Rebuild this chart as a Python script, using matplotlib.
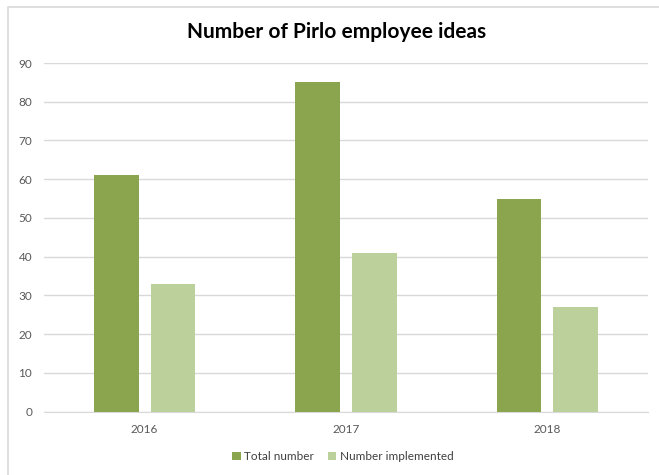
import matplotlib.pyplot as plt
import numpy as np
from matplotlib.patches import Rectangle

years = ['2016', '2017', '2018']
total_number = [61, 85, 55]
number_implemented = [33, 41, 27]

plt.rcParams['font.family'] = ['Lato', 'DejaVu Sans']

fig = plt.figure(figsize=(6.59, 4.75), dpi=100)
ax = fig.add_axes([44 / 659, 1 - 411.5 / 475, 604 / 659, 348.5 / 475])

x = np.arange(len(years))
w = 0.222
off = 0.141
ax.bar(x - off, total_number, w, color='#8AA54E', label='Total number', zorder=3)
ax.bar(x + off, number_implemented, w, color='#BBD09A', label='Number implemented', zorder=3)

ax.set_xlim(-0.5, 2.5)
ax.set_ylim(0, 90)
ax.set_yticks(range(0, 91, 10))
ax.set_xticks(x)
ax.set_xticklabels(years)
ax.yaxis.grid(True, color='#D9D9D9', linewidth=1, zorder=0)
for s in ['top', 'right', 'left']:
    ax.spines[s].set_visible(False)
ax.spines['bottom'].set_color('#D9D9D9')
ax.tick_params(axis='both', length=0, labelsize=8.5, labelcolor='#595959')
ax.tick_params(axis='y', pad=8.5)
ax.tick_params(axis='x', pad=9)

fig.text(0.511, 0.932, 'Number of Pirlo employee ideas', ha='center', va='center',
         fontsize=15, fontweight='bold', color='black')

ax.legend(loc='center', bbox_to_anchor=(0.495, -0.13), ncol=2, frameon=False,
          fontsize=8.5, handlelength=0.7, handleheight=0.7, handletextpad=0.3,
          columnspacing=1.2, labelcolor='#404040')

fig.patches.append(Rectangle((7.5 / 659, -0.1), 1.2, 1 - 7 / 475 + 0.1, transform=fig.transFigure,
                             fill=False, edgecolor='#D9D9D9', linewidth=1.2))

fig.savefig('out.png', dpi=100)
